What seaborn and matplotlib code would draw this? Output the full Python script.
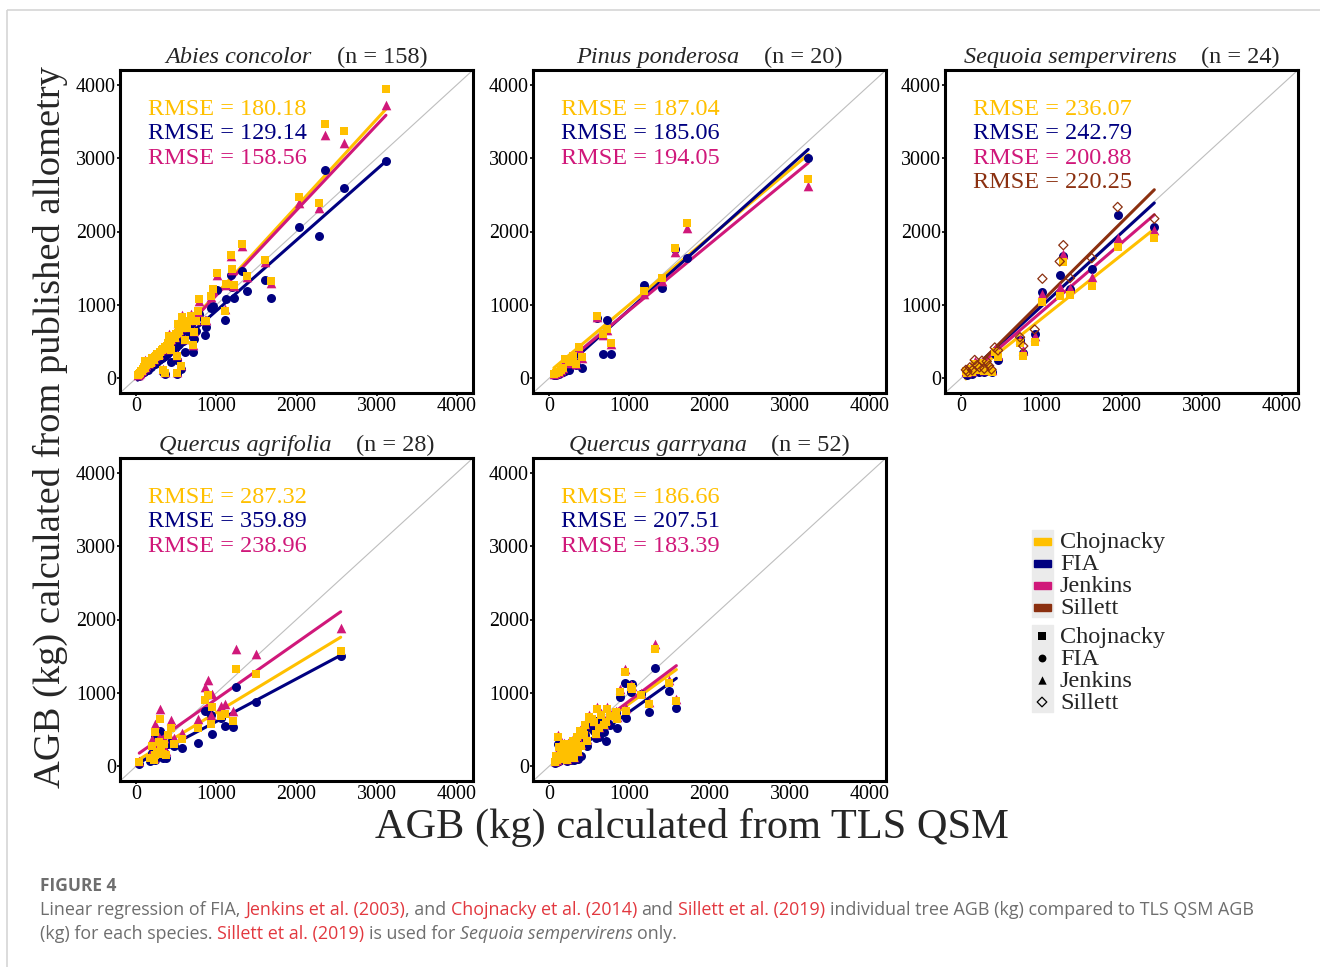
import matplotlib
matplotlib.use("Agg")
import matplotlib.pyplot as plt
import numpy as np
import pandas as pd
import seaborn as sns
from matplotlib.patches import Rectangle

# figure size in pixels (dpi 100)
W, H = 1320, 967

# allometry colours
CHOJ = "#FFC000"
FIA = "#000080"
JENK = "#D0187A"
SILL = "#8B3010"
DIAG = "#BEBEBE"

methods = ["Chojnacky", "FIA", "Jenkins", "Sillett"]
method_colors = [CHOJ, FIA, JENK, SILL]

# ---------------- data ----------------
# Abies concolor  (TLS QSM AGB and the three allometries)
abies_x = [3115, 2355, 2587, 2031, 2284, 1317, 1180, 1603, 1013, 1200, 1379, 1221, 1686, 1117, 964,
           935, 785, 773, 1109, 876, 681, 577, 528, 640, 744, 723, 710, 856, 607, 515,
           440, 341, 357, 515, 556, 411, 295, 204, 112,
           20, 35, 50, 60, 75, 90, 100, 115, 130, 145, 160, 175, 190, 205, 220, 235, 250, 265,
           280, 300, 320, 340, 360, 380, 400, 420, 440, 460, 480, 500, 520, 540, 560, 580, 600, 620, 650]
abies_choj = [3946, 3470, 3366, 2469, 2383, 1827, 1682, 1610, 1429, 1488, 1397, 1275, 1320, 1285, 1217,
              1126, 1081, 923, 913, 787, 855, 841, 742, 696, 787, 628, 448, 780, 520, 300,
              380, 120, 72, 72, 163, 583, 360, 280, 230,
              40, 55, 70, 95, 100, 125, 150, 140, 175, 190, 200, 230, 215, 260, 250, 290, 300, 330,
              310, 365, 380, 400, 430, 440, 480, 500, 520, 560, 545, 600, 620, 650, 690, 700, 760, 690, 780]
abies_fia = [2958, 2831, 2596, 2066, 1939, 1465, 1407, 1343, 1207, 1250, 1194, 1090, 1095, 1080, 986,
             960, 880, 832, 796, 696, 720, 640, 600, 585, 650, 539, 362, 593, 357, 253,
             221, 86, 60, 55, 130, 450, 300, 220, 170,
             25, 35, 48, 60, 70, 80, 85, 100, 110, 120, 140, 150, 160, 175, 190, 200, 215, 230,
             245, 260, 280, 290, 310, 330, 345, 370, 380, 400, 410, 430, 450, 470, 490, 510, 560, 600, 640]
abies_jenk = [3720, 3311, 3207, 2392, 2315, 1800, 1660, 1590, 1410, 1470, 1380, 1255, 1300, 1265, 1200,
              1110, 1060, 905, 950, 800, 880, 860, 760, 715, 800, 645, 460, 790, 540, 320,
              400, 130, 90, 90, 180, 600, 380, 298, 244,
              42, 58, 75, 100, 108, 135, 160, 150, 185, 205, 215, 240, 230, 275, 265, 305, 315, 345,
              325, 380, 395, 420, 445, 460, 500, 520, 540, 575, 560, 615, 635, 665, 700, 715, 780, 705, 800]
abies_rmse = ["180.18", "129.14", "158.56"]
abies_slope = [1.19, 0.964, 1.16]
abies_icept = [-40, -45, -30]

# Pinus ponderosa
pinus_x = [3231, 1724, 1566, 1412, 1184, 602, 727, 673, 768, 374, 415, 300, 250, 200, 180, 150, 120, 90, 60, 330]
pinus_choj = [2718, 2121, 1782, 1366, 1185, 855, 674, 606, 479, 425, 290, 310, 220, 260, 140, 120, 90, 70, 60, 200]
pinus_fia = [3003, 1637, 1760, 1230, 1275, 820, 796, 326, 335, 348, 145, 250, 120, 100, 90, 80, 60, 50, 45, 180]
pinus_jenk = [2619, 2045, 1727, 1320, 1150, 830, 660, 590, 470, 410, 280, 300, 210, 250, 135, 115, 85, 68, 58, 195]
pinus_rmse = ["187.04", "185.06", "194.05"]
pinus_slope = [0.917, 0.979, 0.90]
pinus_icept = [86, -45, 27]

# Sequoia sempervirens (with Sillett)
seq_x = [1952, 2409, 1275, 1230, 1629, 1014, 1358, 918, 735, 775, 461, 420, 380, 350, 320, 290, 260, 230,
         200, 170, 140, 110, 80, 60]
seq_choj = [1791, 1909, 1578, 1126, 1262, 1045, 1140, 493, 480, 300, 290, 360, 90, 130, 180, 100, 210, 120,
            150, 200, 90, 130, 70, 100]
seq_fia = [2225, 2067, 1663, 1411, 1488, 1171, 1215, 600, 520, 350, 244, 330, 80, 100, 150, 80, 170, 90,
           110, 160, 60, 100, 50, 60]
seq_jenk = [1909, 2022, 1692, 1239, 1384, 1148, 1230, 570, 540, 380, 320, 400, 110, 150, 200, 120, 220, 130,
            170, 230, 100, 140, 80, 105]
seq_sill = [2334, 2175, 1814, 1592, 1637, 1357, 1366, 665, 560, 440, 380, 420, 120, 170, 230, 130, 240, 150,
            180, 250, 110, 150, 90, 115]
seq_rmse = ["236.07", "242.79", "200.88", "220.25"]
seq_slope = [0.87, 1.0, 0.94, 1.085]
seq_icept = [-61, -20, -36, -45]

# Quercus agrifolia
qa_x = [2551, 1242, 1491, 897, 860, 951, 1109, 1213, 1060, 773, 939, 303, 432, 237, 577, 478, 200, 240,
        260, 310, 330, 350, 370, 40, 220, 280, 400, 180]
qa_choj = [1569, 1329, 1256, 970, 902, 812, 707, 616, 680, 526, 581, 639, 520, 472, 376, 300, 280, 150,
           200, 240, 170, 310, 160, 60, 90, 330, 420, 120]
qa_fia = [1501, 1079, 875, 760, 752, 435, 548, 540, 660, 322, 700, 480, 330, 413, 245, 280, 180, 80,
          150, 140, 110, 190, 120, 30, 100, 250, 300, 70]
qa_jenk = [1887, 1601, 1524, 1170, 1084, 980, 850, 752, 820, 639, 700, 775, 630, 571, 458, 390, 370, 200,
           260, 300, 220, 380, 210, 75, 120, 400, 450, 160]
qa_rmse = ["287.32", "359.89", "238.96"]
qa_slope = [0.662, 0.582, 0.767]
qa_icept = [70, 28, 149]

# Quercus garryana
qg_x = [1325, 951, 1022, 889, 1495, 1587, 1246, 1150, 723, 847, 598, 502, 710, 112, 840, 650, 560, 620,
        450, 420, 380, 350, 330, 300, 280, 260, 240, 220, 200, 180, 160, 140, 120, 100, 90, 80,
        530, 470, 400, 360, 760, 680, 590, 440, 310, 270, 230, 190, 150, 130, 960, 1040]
qg_choj = [1592, 1284, 1079, 1011, 1139, 889, 844, 966, 776, 644, 785, 676, 600, 404, 740, 700, 600, 520,
           560, 450, 480, 400, 300, 350, 250, 200, 300, 180, 250, 150, 220, 120, 100, 80, 140, 60,
           640, 350, 280, 200, 680, 560, 440, 420, 120, 140, 90, 300, 180, 260, 760, 1060]
qg_fia = [1343, 1129, 1011, 948, 1024, 798, 739, 990, 600, 526, 620, 530, 344, 300, 720, 600, 480, 400,
          420, 330, 300, 220, 180, 260, 200, 120, 200, 140, 150, 110, 160, 90, 70, 60, 100, 40,
          520, 270, 140, 100, 560, 470, 380, 360, 80, 90, 70, 210, 130, 170, 660, 1120]
qg_jenk = [1660, 1329, 1110, 1050, 1170, 920, 880, 1000, 810, 670, 810, 700, 630, 420, 760, 720, 620, 540,
           580, 470, 500, 420, 320, 370, 270, 215, 320, 195, 265, 165, 235, 130, 110, 90, 150, 70,
           660, 370, 300, 210, 700, 580, 460, 440, 130, 150, 100, 320, 195, 275, 790, 1090]
qg_rmse = ["186.66", "207.51", "183.39"]
qg_slope = [0.79, 0.78, 0.82]
qg_icept = [64, -39, 70]

# panel layout in pixels: left, top, right, bottom
panels = [
    ("Abies concolor", 158, abies_x, [abies_choj, abies_fia, abies_jenk], abies_rmse, abies_slope, abies_icept,
     (120, 70, 473, 393)),
    ("Pinus ponderosa", 20, pinus_x, [pinus_choj, pinus_fia, pinus_jenk], pinus_rmse, pinus_slope, pinus_icept,
     (533, 70, 886, 393)),
    ("Sequoia sempervirens", 24, seq_x, [seq_choj, seq_fia, seq_jenk, seq_sill], seq_rmse, seq_slope, seq_icept,
     (945, 70, 1298, 393)),
    ("Quercus agrifolia", 28, qa_x, [qa_choj, qa_fia, qa_jenk], qa_rmse, qa_slope, qa_icept,
     (120, 458, 473, 781)),
    ("Quercus garryana", 52, qg_x, [qg_choj, qg_fia, qg_jenk], qg_rmse, qg_slope, qg_icept,
     (533, 458, 886, 781)),
]

sns.set_theme(style="white")
plt.rcParams["font.family"] = ["Liberation Serif", "DejaVu Serif"]

fig = plt.figure(figsize=(W / 100, H / 100), dpi=100)

# draw order of the point layers (FIA under Jenkins under Chojnacky, Sillett on top)
point_z = [5, 3, 4, 6]
markers = ["s", "o", "^", "D"]
sizes = [40, 42, 48, 22]

for name, n, xs, ys, rmse, slope, icept, (l, t, r, b) in panels:
    ax = fig.add_axes([l / W, 1 - b / H, (r - l) / W, (b - t) / H])
    ax.axline((0, 0), slope=1, color=DIAG, lw=0.8, zorder=1)

    xline = np.array([min(xs), max(xs)], dtype=float)
    for k in range(len(ys)):
        sns.lineplot(x=xline, y=icept[k] + slope[k] * xline, color=method_colors[k], lw=2.2, ax=ax, zorder=2)

    for k in range(len(ys)):
        df = pd.DataFrame({"tls": xs, "agb": ys[k]})
        if methods[k] == "Sillett":
            sns.scatterplot(data=df, x="tls", y="agb", marker="D", s=sizes[k], facecolor="none",
                            edgecolor=SILL, linewidth=0.9, ax=ax, zorder=point_z[k])
        else:
            sns.scatterplot(data=df, x="tls", y="agb", marker=markers[k], s=sizes[k], color=method_colors[k],
                            linewidth=0, ax=ax, zorder=point_z[k])

    for k, val in enumerate(rmse):
        ax.text(150, 3665 - 333 * k, "RMSE = " + val, color=method_colors[k], fontsize=17.5, va="center")

    ax.set_xlim(-200, 4200)
    ax.set_ylim(-200, 4200)
    ax.set_xticks(range(0, 4001, 1000))
    ax.set_yticks(range(0, 4001, 1000))
    ax.set_xlabel("")
    ax.set_ylabel("")
    for sp in ax.spines.values():
        sp.set_linewidth(2.2)
        sp.set_color("black")
    ax.tick_params(left=True, bottom=True, length=2.5, width=1.2, pad=0.5, labelsize=14.4, colors="black")

# overlay in pixel coordinates for labels, legend and caption
lax = fig.add_axes([0, 0, 1, 1], zorder=10)
lax.set_xlim(0, W)
lax.set_ylim(H, 0)
lax.axis("off")
renderer = fig.canvas.get_renderer()


def seg_width(txt, **kw):
    if not txt:
        return 0.0
    a = lax.text(0, 0, "|" + txt + "|", **kw)
    c = lax.text(0, 0, "||", **kw)
    w = a.get_window_extent(renderer).width - c.get_window_extent(renderer).width
    a.remove()
    c.remove()
    return w


def draw_segments(x, y, segments, center=False):
    widths = [seg_width(s, **kw) for s, kw in segments]
    if center:
        x = x - sum(widths) / 2
    for (s, kw), w in zip(segments, widths):
        lead = len(s) - len(s.lstrip())
        core = s.strip()
        if core:
            lax.text(x + seg_width(s[:lead], **kw), y, core, ha="left", va="baseline", **kw)
        x += w


# panel titles
for name, n, *_rest, (l, t, r, b) in panels:
    draw_segments((l + r) / 2, t - 7,
                  [(name, dict(fontsize=17.5, style="italic")), ("    (n = %d)" % n, dict(fontsize=17.5))],
                  center=True)

# axis labels
lax.text(50, 427, "AGB (kg) calculated from published allometry", rotation=90, ha="center", va="center",
         fontsize=27.7)
lax.text(692, 838, "AGB (kg) calculated from TLS QSM", ha="center", va="baseline", fontsize=30.5)

# legend (colour keys and shape keys)
lax.add_patch(Rectangle((1032, 530), 21, 87, color="#EBEBEB", zorder=0))
lax.add_patch(Rectangle((1032, 625), 21, 87, color="#EBEBEB", zorder=0))
legend_marker_s = [30, 32, 36, 24]
for i, (m, c) in enumerate(zip(methods, method_colors)):
    lax.add_patch(Rectangle((1034, 541 + 22 * i - 3.5), 17, 7, color=c, zorder=1))
    lax.text(1060, 548 + 22 * i, m, fontsize=17.5, va="baseline")
    lax.text(1060, 643 + 22 * i, m, fontsize=17.5, va="baseline")
    yy = 636 + 22 * i
    if m == "Sillett":
        lax.scatter([1042], [yy], marker="D", s=legend_marker_s[i], facecolor="none", edgecolor="black",
                    linewidth=0.9, zorder=2)
    else:
        lax.scatter([1042], [yy], marker=markers[i], s=legend_marker_s[i], color="black", linewidth=0, zorder=2)

# outer frame
lax.add_patch(Rectangle((7, 10), 1400, 1000, fill=False, edgecolor="#D5D5D5", lw=1.2))

# caption
CAP = dict(fontsize=12.9, color="#6E6E6E", family=["Open Sans", "DejaVu Sans"])
RED = dict(CAP, color="#E2383F")
ITA = dict(CAP, style="italic")
lax.text(40, 891, "FIGURE 4", fontsize=12.5, color="#6E6E6E", weight="bold", family=["Open Sans", "DejaVu Sans"],
         va="baseline")
draw_segments(40, 915, [("Linear regression of FIA, ", CAP), ("Jenkins et al. (2003)", RED), (", and ", CAP),
                        ("Chojnacky et al. (2014)", RED), (" and ", CAP), ("Sillett et al. (2019)", RED),
                        (" individual tree AGB (kg) compared to TLS QSM AGB", CAP)])
draw_segments(40, 939, [("(kg) for each species. ", CAP), ("Sillett et al. (2019)", RED), (" is used for ", CAP),
                        ("Sequoia sempervirens", ITA), (" only.", CAP)])

fig.savefig("out.png", dpi=100)
